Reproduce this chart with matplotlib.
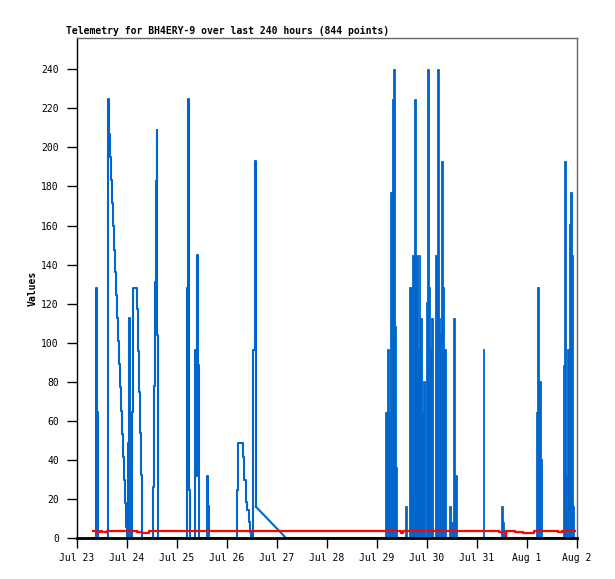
import matplotlib
matplotlib.use("Agg")
import matplotlib.pyplot as plt

BLUE = "#0066cc"
RED = "#ff0000"

title = "Telemetry for BH4ERY-9 over last 240 hours (844 points)"
day_labels = ["Jul 23", "Jul 24", "Jul 25", "Jul 26", "Jul 27", "Jul 28",
              "Jul 29", "Jul 30", "Jul 31", "Aug 1", "Aug 2"]
y_ticks = list(range(0, 241, 20))

# blue trace, hours since Jul 23 00:00 (held until the next sample)
trace_hours = [7.8,
               9.2, 9.3, 9.6, 9.8, 10.1, 10.3,
               14.5, 14.7, 15.2, 15.5, 15.8, 16.2, 16.6, 17.1, 17.8, 18.2, 18.7,
               19.2, 19.7, 20.2, 20.6, 21.1, 21.6, 22.1, 22.6, 23.0, 23.5, 24.0,
               24.4, 24.5, 24.8, 25.0, 25.4, 25.7, 26.1, 26.4, 26.9, 28.4, 28.6,
               29.1, 29.6, 30.1, 30.6, 31.0, 31.3,
               36.1, 36.3, 36.8, 37.3, 37.8, 38.2, 38.6, 38.9,
               52.4, 52.6, 53.1, 53.6, 54.0,
               56.2, 56.4, 57.0, 57.7, 58.3, 58.7,
               62.0, 62.2, 62.8, 63.2,
               76.5, 76.8, 77.2, 79.3, 79.6, 80.3, 81.0, 81.8, 82.5, 83.1, 83.5,
               84.5, 84.7, 85.2, 85.7, 85.9]
trace_values = [0,
                0, 128, 128, 64.5, 64.5, 0,
                0, 225, 219, 207, 195, 183.5, 171.6, 159.7, 147.7, 136, 124.2,
                112.4, 100.7, 88.9, 77.1, 65.2, 53.2, 41.3, 29.5, 17.8, 5.8, 0,
                0, 48.5, 0, 112.4, 0, 56, 0, 64.6, 128, 128, 117.5,
                96, 74.5, 53.6, 32.2, 10.9, 0,
                0, 26, 78, 131, 183, 209, 104, 0,
                0, 128, 225, 24.6, 0,
                0, 96.5, 32, 145, 88.5, 0,
                0, 32, 16.4, 0,
                0, 24.6, 48.5, 48.5, 41.6, 29.7, 18.6, 14.3, 8.4, 3.2, 0,
                0, 96.5, 193, 16, 16]

# gap in the data after Jul 26 (straight line), then zero
gap_hours = [85.9, 100.3, 239.0]
gap_values = [16, 0, 0]

# dense bursts (Jul 29 - Aug 2), start / end hour and value
block_start = [147.8, 148.8, 149.8, 150.2, 151.2, 151.6, 152.6, 153.0,
               157.4, 159.4, 160.8, 161.8, 162.7, 163.7, 164.2, 164.7, 165.4,
               166.1, 167.5, 168.1, 168.8, 169.4, 169.9, 171.8, 172.8, 173.6,
               174.1, 174.6, 175.6, 176.2, 178.6, 179.5, 180.5, 181.6,
               194.7, 203.5, 204.3,
               220.5, 221.0, 221.7, 222.4,
               233.3, 233.8, 234.6, 235.0, 236.0, 236.5, 237.4, 237.9]
block_end = [148.8, 149.8, 150.2, 151.2, 151.6, 152.6, 153.0, 153.6,
             158.2, 160.8, 161.8, 162.7, 163.7, 164.2, 164.7, 165.4, 166.1,
             167.0, 168.1, 168.8, 169.4, 169.9, 170.9, 172.8, 173.6, 174.1,
             174.6, 175.6, 176.2, 177.1, 179.5, 180.3, 181.6, 182.4,
             195.5, 204.3, 204.9,
             221.1, 221.7, 222.5, 223.0,
             233.9, 234.7, 235.0, 236.0, 236.6, 237.4, 237.9, 238.6]
block_value = [64.6, 96.7, 64.6, 177.2, 225, 240, 108.5, 36.5,
               16.4, 128.5, 144.8, 225, 144.8, 96.7, 144.8, 112.7, 64.6,
               80.3, 120.8, 240, 128.5, 96.7, 112.7, 144.8, 240, 112.7,
               104.4, 193, 128.5, 96.7, 16.4, 8.4, 112.7, 32.2,
               96.7, 16.4, 8.4,
               64.5, 128.6, 80.5, 40.4,
               88.5, 193, 32.2, 96.7, 160.7, 176.9, 144.8, 16.4]

# red trace
red_hours = [7.8, 9.1, 11.0, 11.8, 14.4, 29.0, 31.0, 34.6, 155.4, 156.6,
             201.0, 202.6, 205.8, 206.1, 210.1, 214.1, 219.4, 231.1, 232.9, 239.0]
red_values = [3.8, 2.9, 3.8, 2.9, 3.8, 2.9, 2.4, 3.8, 2.8, 3.8,
              3.8, 2.9, 0.7, 3.8, 3.2, 2.5, 3.8, 2.9, 3.8, 3.8]

plt.rcParams['font.family'] = ['DejaVu Sans Mono']

fig = plt.figure(figsize=(6.15, 5.79), dpi=100)
ax = fig.add_axes([77 / 615, 41 / 579, 500 / 615, 500 / 579])

ax.plot(trace_hours, trace_values, color=BLUE, linewidth=1.5,
        drawstyle='steps-post', zorder=2)
ax.plot(gap_hours, gap_values, color=BLUE, linewidth=1.5, zorder=2)
widths = [e - s for s, e in zip(block_start, block_end)]
ax.bar(block_start, block_value, width=widths, align='edge', color=BLUE,
       edgecolor=BLUE, linewidth=0.6, zorder=2)
ax.plot(red_hours, red_values, color=RED, linewidth=1.6, drawstyle='steps-post', zorder=3)

ax.set_xlim(0, 240)
ax.set_ylim(0, 256)
ax.set_xticks(range(0, 241, 24))
ax.set_xticklabels(day_labels)
ax.set_yticks(y_ticks)
ax.tick_params(axis='both', direction='out', length=7, width=1, color='black',
               labelsize=7)
ax.tick_params(axis='y', pad=6)
ax.tick_params(axis='x', pad=4)

for side in ['top', 'right']:
    ax.spines[side].set_color('#666666')
    ax.spines[side].set_linewidth(1)
ax.spines['left'].set_color('black')
ax.spines['left'].set_linewidth(1)
ax.spines['bottom'].set_color('black')
ax.spines['bottom'].set_linewidth(2)
for sp in ax.spines.values():
    sp.set_zorder(5)

fig.text(66 / 615, 1 - 31 / 579, title, fontsize=7, fontweight='bold',
         ha='left', va='center')
fig.text(33 / 615, 1 - 288 / 579, "Values", fontsize=7, fontweight='bold',
         rotation=90, ha='center', va='center')

fig.savefig("out.png", dpi=100)
